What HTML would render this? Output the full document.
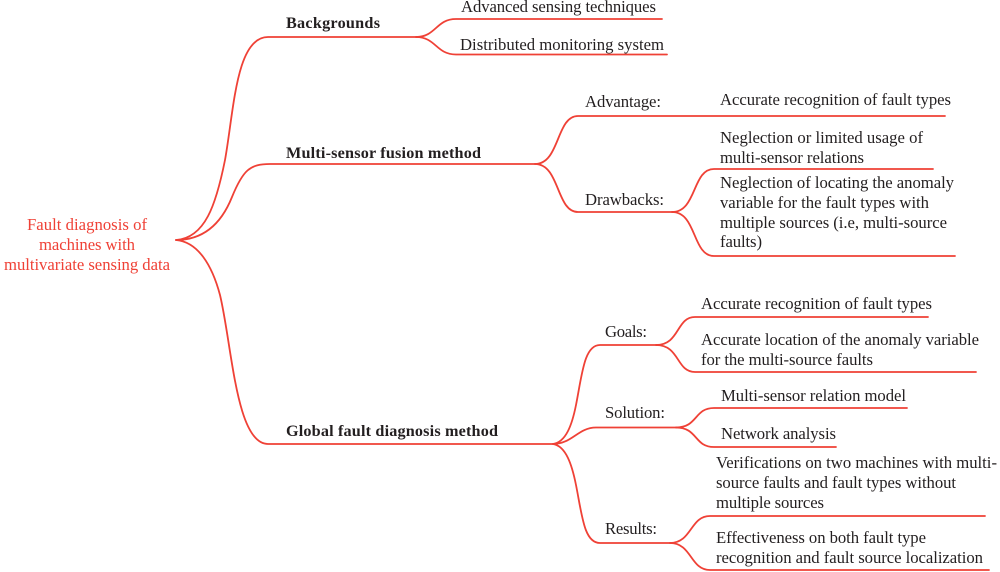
<!DOCTYPE html>
<html lang="en">
<head>
<meta charset="utf-8">
<title>Fault diagnosis mind map</title>
<style>
html,body{margin:0;padding:0;background:#fff;}
svg{display:block;}
text{font-family:"Liberation Serif",serif;font-size:16.7px;fill:#231f20;}
.b{font-weight:bold;font-size:16.2px;}
.r{fill:#ef4136;}
path{fill:none;stroke:#ef4136;stroke-width:1.8;stroke-linecap:round;}
</style>
</head>
<body>
<svg xmlns="http://www.w3.org/2000/svg" width="1000" height="572" viewBox="0 0 1000 572">
<path d="M176 240 C205 238,216 205,225 160 C234 110,236 37,268 37 L420 37"/>
<path d="M176 240 C205 240,222 222,232 197 C243 170,250 164,270 164 L535 164"/>
<path d="M176 240 C198 242,212 265,220 295 C232 345,236 444,268 444 L553 444"/>
<path d="M416 37 C436 37,436 19,456 19 L662 19"/>
<path d="M416 37 C436 37,436 54.500,456 54.500 L667 54.500"/>
<path d="M535 164 C560 164,556 116,578 116 L945 116"/>
<path d="M535 164 C560 164,556 212,578 212 L673 212"/>
<path d="M672 212 C697 212,692 169,714 169 L933 169"/>
<path d="M672 212 C697 212,692 256,714 256 L955 256"/>
<path d="M553 444 C566 442,572 425,576 405 C582 375,584 345,600 345 L657 345"/>
<path d="M553 444 C572 444,578 427.500,596 427.500 L678 427.500"/>
<path d="M553 444 C566 446,572 465,576 485 C582 515,584 543,600 543 L672 543"/>
<path d="M656 345 C680 345,676 317,695 317 L928 317"/>
<path d="M656 345 C680 345,676 372,695 372 L976 372"/>
<path d="M676 427.500 C698 427.500,694 408,714 408 L907 408"/>
<path d="M676 427.500 C698 427.500,694 447,714 447 L836 447"/>
<path d="M670 543 C692 543,690 516,710 516 L985 516"/>
<path d="M670 543 C692 543,690 570,710 570 L989 570"/>

<text class="r" x="27" y="230" textLength="120" lengthAdjust="spacing">Fault diagnosis of</text>
<text class="r" x="39" y="250" textLength="96" lengthAdjust="spacing">machines with</text>
<text class="r" x="4" y="270" textLength="166" lengthAdjust="spacing">multivariate sensing data</text>

<text class="b" x="286" y="28" textLength="94" lengthAdjust="spacing">Backgrounds</text>
<text class="b" x="286" y="158" textLength="195" lengthAdjust="spacing">Multi-sensor fusion method</text>
<text class="b" x="286" y="436" textLength="212" lengthAdjust="spacing">Global fault diagnosis method</text>

<text x="461" y="12" textLength="195" lengthAdjust="spacing">Advanced sensing techniques</text>
<text x="460" y="50" textLength="204" lengthAdjust="spacing">Distributed monitoring system</text>

<text x="585" y="107" textLength="76" lengthAdjust="spacing">Advantage:</text>
<text x="585" y="205" textLength="79" lengthAdjust="spacing">Drawbacks:</text>
<text x="720" y="105" textLength="231" lengthAdjust="spacing">Accurate recognition of fault types</text>
<text x="720" y="143" textLength="203" lengthAdjust="spacing">Neglection or limited usage of</text>
<text x="720" y="163" textLength="144" lengthAdjust="spacing">multi-sensor relations</text>
<text x="720" y="188" textLength="234" lengthAdjust="spacing">Neglection of locating the anomaly</text>
<text x="720" y="208" textLength="209" lengthAdjust="spacing">variable for the fault types with</text>
<text x="720" y="228" textLength="227" lengthAdjust="spacing">multiple sources (i.e, multi-source</text>
<text x="720" y="247" textLength="42" lengthAdjust="spacing">faults)</text>

<text x="605" y="337" textLength="42" lengthAdjust="spacing">Goals:</text>
<text x="605" y="418" textLength="60" lengthAdjust="spacing">Solution:</text>
<text x="605" y="534" textLength="52" lengthAdjust="spacing">Results:</text>

<text x="701" y="309" textLength="231" lengthAdjust="spacing">Accurate recognition of fault types</text>
<text x="701" y="345" textLength="278" lengthAdjust="spacing">Accurate location of the anomaly variable</text>
<text x="701" y="365" textLength="172" lengthAdjust="spacing">for the multi-source faults</text>
<text x="721" y="401" textLength="185" lengthAdjust="spacing">Multi-sensor relation model</text>
<text x="721" y="439" textLength="115" lengthAdjust="spacing">Network analysis</text>
<text x="716" y="468" textLength="281" lengthAdjust="spacing">Verifications on two machines with multi-</text>
<text x="716" y="488" textLength="240" lengthAdjust="spacing">source faults and fault types without</text>
<text x="716" y="508" textLength="108" lengthAdjust="spacing">multiple sources</text>
<text x="716" y="543" textLength="210" lengthAdjust="spacing">Effectiveness on both fault type</text>
<text x="716" y="563" textLength="267" lengthAdjust="spacing">recognition and fault source localization</text>
</svg>
</body>
</html>
